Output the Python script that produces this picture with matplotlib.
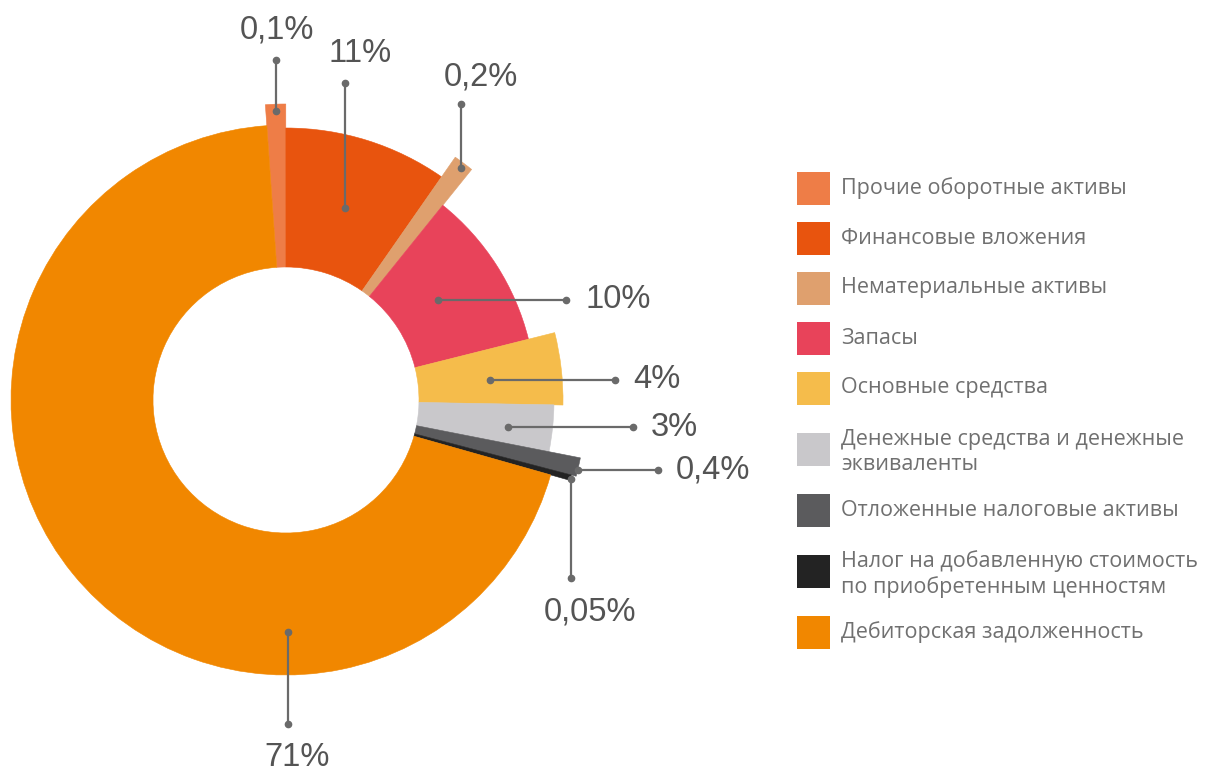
import numpy as np
import matplotlib.pyplot as plt
from matplotlib.patches import Wedge, Rectangle

# slices, clockwise from the top
categories = [
    'Прочие оборотные активы',
    'Финансовые вложения',
    'Нематериальные активы',
    'Запасы',
    'Основные средства',
    'Денежные средства и денежные\nэквиваленты',
    'Отложенные налоговые активы',
    'Налог на добавленную стоимость\nпо приобретенным ценностям',
    'Дебиторская задолженность',
]
pct_labels = ['0,1%', '11%', '0,2%', '10%', '4%', '3%', '0,4%', '0,05%', '71%']
# share of the circle each slice takes in the picture (tiny items are widened there)
drawn_share = [1.1, 9.7, 1.1, 10.3, 4.2, 2.8, 1.0, 0.3, 69.5]

colors = ['#EE7D47', '#E8540E', '#DFA06E', '#E8435A', '#F5BC4B',
          '#C9C8CB', '#5B5B5D', '#232323', '#F18700']
# outer radius of each piece (px), hole radius
ring_outer = [296, 272, 296, 250, 277, 268, 300, 295, 275]
hole = 133

W, H = 1217, 774
cx, cy = 286, H - 400
start_angle = 94

# leader lines: (anchor angle, anchor radius, direction, end, text pos)
leaders = [
    (92, 289, 'up', 60, (277, 30)),
    (73, 201, 'up', 83, (360, 53)),
    (53, 291, 'up', 104, (481, 77)),
    (33.5, 182, 'right', 566, (586, 299)),
    (5.6, 205, 'right', 615, (633, 380)),
    (-7, 224, 'right', 633, (651, 427)),
    (-13.5, 300, 'right', 658, (676, 470)),
    (-15.5, 296, 'down', 578, (590, 612)),
    (-89.5, 232, 'down', 724, (297, 757)),
]

fig = plt.figure(figsize=(W / 100, H / 100), dpi=100)
ax = fig.add_axes([0, 0, 1, 1])
ax.set_xlim(0, W)
ax.set_ylim(0, H)
ax.set_aspect('equal')
ax.axis('off')

# donut pieces with their own outer radius
theta = start_angle
for share, r, c in zip(drawn_share, ring_outer, colors):
    span = share * 3.6
    ax.add_patch(Wedge((cx, cy), r, theta - span, theta, width=r - hole,
                       facecolor=c, edgecolor=c, linewidth=0.4))
    theta -= span

line_c = '#6a6a6a'
for (ang, rad, d, end, tpos), txt in zip(leaders, pct_labels):
    x0 = cx + rad * np.cos(np.radians(ang))
    y0 = cy + rad * np.sin(np.radians(ang))
    if d == 'right':
        x1, y1 = end, y0
        ha = 'left'
    else:
        x1, y1 = x0, H - end
        ha = 'center'
    ax.plot([x0, x1], [y0, y1], color=line_c, lw=1.6, marker='o', ms=4.5)
    ax.text(tpos[0], H - tpos[1], txt, ha=ha, va='center',
            fontsize=23.5, color='#545454', family='Liberation Sans')

# legend on the right
y = 188
prev_extra = 0
for i, (lab, c) in enumerate(zip(categories, colors)):
    extra = lab.count('\n')
    if i > 0:
        y += 50 + 11 * (extra + prev_extra)
    ax.add_patch(Rectangle((797, H - y - 16.5), 33, 33, facecolor=c, edgecolor='none'))
    ax.text(841, H - y - 3 * extra, lab, ha='left', va='center', fontsize=15.5,
            color='#707070', family='Open Sans', linespacing=1.2)
    prev_extra = extra

fig.savefig('out.png', dpi=100, facecolor='white')
